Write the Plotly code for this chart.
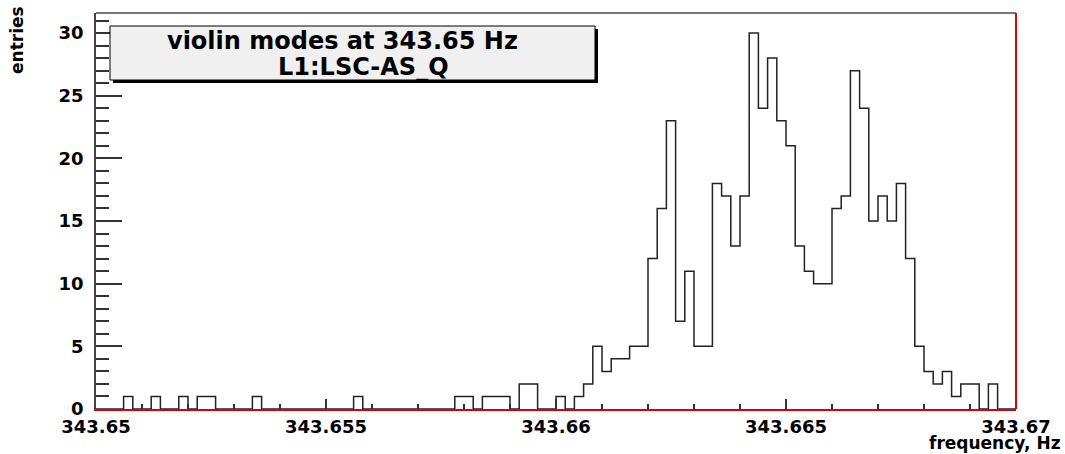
import numpy as np
import plotly.graph_objects as go

# ---- data ----
bin_low = 343.65
bin_high = 343.67
n_bins = 100
counts = [0, 0, 0, 1, 0, 0, 1, 0, 0, 1,
          0, 1, 1, 0, 0, 0, 0, 1, 0, 0,
          0, 0, 0, 0, 0, 0, 0, 0, 1, 0,
          0, 0, 0, 0, 0, 0, 0, 0, 0, 1,
          1, 0, 1, 1, 1, 0, 2, 2, 0, 0,
          1, 0, 1, 2, 5, 3, 4, 4, 5, 5,
          12, 16, 23, 7, 11, 5, 5, 18, 17, 13,
          17, 30, 24, 28, 23, 21, 13, 11, 10, 10,
          16, 17, 27, 24, 15, 17, 15, 18, 12, 5,
          3, 2, 3, 1, 2, 2, 0, 2, 0, 0]
x_tick_vals = [343.65, 343.655, 343.66, 343.665, 343.67]
x_tick_text = ["343.65", "343.655", "343.66", "343.665", "343.67"]
y_tick_vals = [0, 5, 10, 15, 20, 25, 30]
title_lines = ["violin modes at 343.65 Hz", "L1:LSC-AS_Q"]
x_title = "frequency, Hz"
y_title = "entries"

edges = np.linspace(bin_low, bin_high, n_bins + 1)
step_y = counts + [counts[-1]]

# ---- layout geometry (pixels) ----
W, H = 1065, 454
L, R, T, B = 96, 1016, 13, 409
pw, ph = R - L, B - T


def px(x):
    return (x - L) / pw


def py(y):
    return (B - y) / ph


FONT = "DejaVu Sans"

fig = go.Figure()
fig.add_trace(go.Scatter(
    x=edges, y=step_y, mode="lines", line_shape="hv",
    line=dict(color="#222222", width=1.5), showlegend=False, hoverinfo="skip"))

fig.update_layout(
    width=W, height=H,
    margin=dict(l=L, r=W - R, t=T, b=H - B, autoexpand=False),
    plot_bgcolor="white", paper_bgcolor="white",
    showlegend=False,
    font=dict(family=FONT, color="black", size=20, weight="bold"),
)

fig.update_xaxes(
    range=[bin_low, bin_high], showgrid=False, zeroline=False,
    showline=True, linecolor="#e00000", linewidth=2,
    ticks="inside", ticklen=10, tickwidth=1.5, tickcolor="#333333",
    tickvals=x_tick_vals, ticktext=x_tick_text,
    tickfont=dict(family=FONT, size=18, weight="bold", color="black"),
    ticklabelstandoff=0,
    minor=dict(dtick=0.001, tick0=bin_low, ticks="inside", ticklen=5,
               tickwidth=1.5, tickcolor="#333333"),
)
fig.update_yaxes(
    range=[0, 31.6], showgrid=False, zeroline=False,
    showline=True, linecolor="#444444", linewidth=1.5,
    ticks="inside", ticklen=26, tickwidth=1.5, tickcolor="#333333",
    tickvals=y_tick_vals,
    tickfont=dict(family=FONT, size=18, weight="bold", color="black"),
    ticklabelstandoff=7,
    minor=dict(dtick=1, tick0=0, ticks="inside", ticklen=13,
               tickwidth=1.5, tickcolor="#333333"),
)

shapes = []
# top frame line (gray) and right frame line (red)
shapes.append(dict(type="line", xref="paper", yref="paper", x0=0, x1=1, y0=1, y1=1,
                   line=dict(color="#777777", width=2)))
shapes.append(dict(type="line", xref="paper", yref="paper", x0=1, x1=1, y0=0, y1=1,
                   line=dict(color="#e00000", width=2)))
# title box shadow + box
shapes.append(dict(type="rect", xref="paper", yref="paper",
                   x0=px(113), x1=px(598), y0=py(83), y1=py(29),
                   fillcolor="black", line=dict(width=0)))
shapes.append(dict(type="rect", xref="paper", yref="paper",
                   x0=px(110), x1=px(595), y0=py(80), y1=py(26),
                   fillcolor="#f0f0f0", line=dict(color="black", width=1)))
fig.update_layout(shapes=shapes)

annotations = [
    dict(text=title_lines[0], x=px(342), y=py(41), xref="paper", yref="paper",
         showarrow=False, xanchor="center", yanchor="middle",
         font=dict(family=FONT, size=24, weight="bold", color="black")),
    dict(text=title_lines[1], x=px(363), y=py(67), xref="paper", yref="paper",
         showarrow=False, xanchor="center", yanchor="middle",
         font=dict(family=FONT, size=24, weight="bold", color="black")),
    dict(text=x_title, x=px(1063), y=py(443), xref="paper", yref="paper",
         showarrow=False, xanchor="right", yanchor="middle",
         font=dict(family=FONT, size=17, weight="bold", color="black")),
    dict(text=y_title, x=px(17), y=py(40), xref="paper", yref="paper",
         showarrow=False, xanchor="center", yanchor="middle", textangle=-90,
         font=dict(family=FONT, size=17, weight="bold", color="black")),
]
fig.update_layout(annotations=annotations)

fig.write_html("out.html",
               config={"displayModeBar": False},
               post_script="document.body.style.margin='0px';document.body.style.overflow='hidden';")
